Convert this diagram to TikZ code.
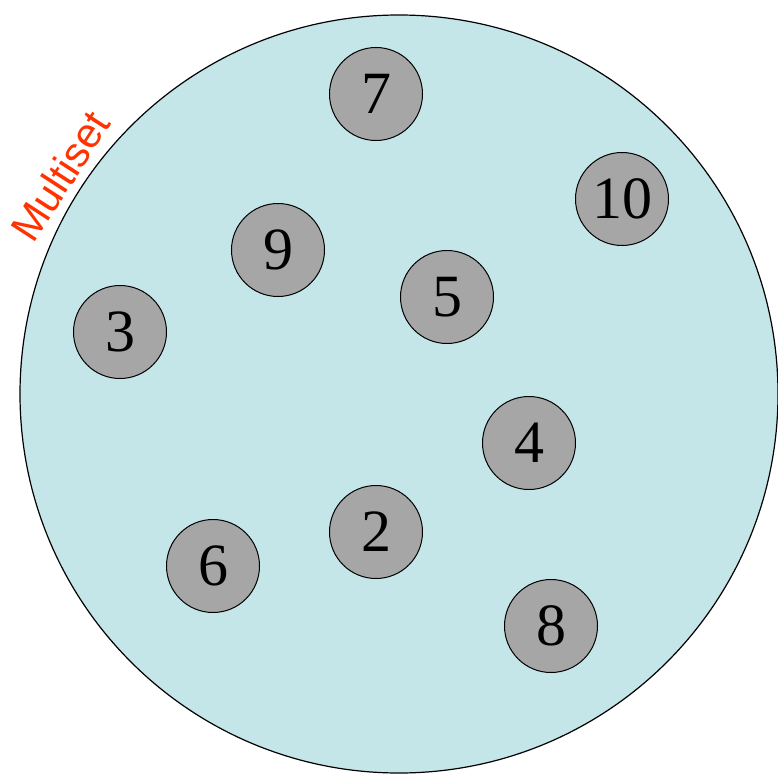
\documentclass[tikz,border=0pt]{standalone}
\usepackage{fontspec}
\setmainfont{Liberation Serif}
\newfontfamily\labelfont{Liberation Sans}
\definecolor{setblue}{RGB}{196,230,233}
\definecolor{ballgray}{RGB}{166,166,166}
\definecolor{labelred}{RGB}{255,51,0}
\begin{document}
\begin{tikzpicture}[x=1pt,y=-1pt,
  ball/.style={circle,draw=black,line width=1pt,fill=ballgray,minimum size=93pt,inner sep=0pt,font=\fontsize{60}{60}\selectfont}]
\useasboundingbox (0,0) rectangle (778,773);
\begin{scope}
\clip (0,0) rectangle (778,773);
\node[circle,draw=black,line width=1.2pt,fill=setblue,minimum size=758pt,inner sep=0pt] (set) at (399,394) {};
\end{scope}
\node[text=labelred,font=\labelfont\fontsize{42}{42}\selectfont,rotate=57] (lab) at (60,176) {Multiset};
\node[ball] (n7) at (376,94) {7};
\node[ball] (n10) at (622,199) {10};
\node[ball] (n9) at (278,250) {9};
\node[ball] (n5) at (447,297) {5};
\node[ball] (n3) at (120,332) {3};
\node[ball] (n4) at (529,443) {4};
\node[ball] (n2) at (376,532) {2};
\node[ball] (n6) at (213,566) {6};
\node[ball] (n8) at (551,626) {8};
\end{tikzpicture}
\end{document}
